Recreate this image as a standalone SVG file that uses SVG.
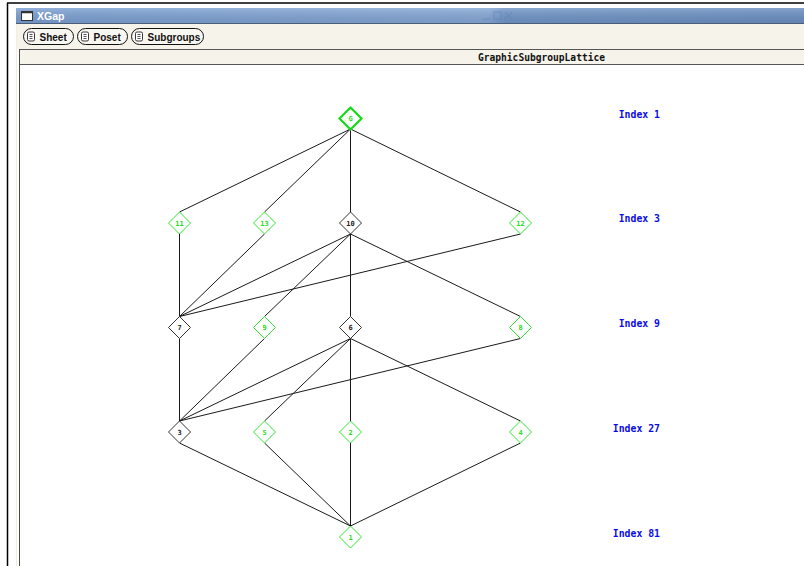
<svg xmlns="http://www.w3.org/2000/svg" width="804" height="566" viewBox="0 0 804 566">
  <defs>
    <linearGradient id="titleGrad" x1="0" y1="0" x2="1" y2="0">
      <stop offset="0" stop-color="#7a9fd2"/>
      <stop offset="0.6" stop-color="#86a8d6"/>
      <stop offset="0.62" stop-color="#7196c8"/>
      <stop offset="1" stop-color="#6b8fc2"/>
    </linearGradient>
    <linearGradient id="titleShade" x1="0" y1="0" x2="0" y2="1">
      <stop offset="0" stop-color="#ffffff" stop-opacity="0.18"/>
      <stop offset="1" stop-color="#000000" stop-opacity="0.08"/>
    </linearGradient>
  </defs>
  <style>
    .edge { stroke: #1a1a1a; stroke-width: 1; fill: none; }
    .node-g { fill: #ffffff; stroke: #2ee82e; stroke-width: 1; }
    .node-b { fill: #ffffff; stroke: #333333; stroke-width: 1; }
    .node-top { fill: #ffffff; stroke: #14dc14; stroke-width: 2.2; }
    .lab { font-family: "DejaVu Sans Mono", "Liberation Mono", monospace; font-size: 7px; font-weight: bold; text-anchor: middle; }
    .lab-g { fill: #22dd22; }
    .lab-b { fill: #222222; }
    .idx { font-family: "DejaVu Sans Mono", "Liberation Mono", monospace; font-size: 9.8px; font-weight: bold; fill: #0a0ae6; text-anchor: end; }
    .btn { fill: #f8f6f0; stroke: #111111; stroke-width: 1; }
    .btntxt { font-family: "Liberation Sans", Arial, sans-serif; font-size: 10px; font-weight: bold; fill: #111111; }
    .doc { fill: #ffffff; stroke: #222222; stroke-width: 0.9; }
  </style>

  <!-- page background and outer frame -->
  <rect x="0" y="0" width="804" height="566" fill="#ffffff"/>
  <line x1="7.5" y1="3" x2="7.5" y2="566" stroke="#000000" stroke-width="1.5"/>
  <line x1="7" y1="3" x2="804" y2="3" stroke="#000000" stroke-width="1.5"/>

  <!-- window title bar -->
  <g id="titlebar">
    <rect x="16" y="8" width="788" height="15.5" fill="url(#titleGrad)"/>
    <rect x="16" y="8" width="788" height="15.5" fill="url(#titleShade)"/>
    <line x1="16" y1="23.5" x2="804" y2="23.5" stroke="#4a5e7a" stroke-width="1"/>
    <rect x="21.5" y="11.5" width="11" height="9" fill="#ffffff" stroke="#333333" stroke-width="1"/>
    <line x1="21.5" y1="12.5" x2="32.5" y2="12.5" stroke="#333333" stroke-width="1.5"/>
    <text x="37" y="19.5" font-family="Liberation Sans, Arial, sans-serif" font-size="10.5" font-weight="bold" fill="#ffffff">XGap</text>
    <!-- faded window controls -->
    <g opacity="0.35" stroke="#5a7fb4" stroke-width="1.5" fill="none">
      <line x1="483" y1="19" x2="490" y2="19"/>
      <rect x="494" y="12" width="7" height="7"/>
      <line x1="505" y1="12" x2="512" y2="19"/>
      <line x1="512" y1="12" x2="505" y2="19"/>
    </g>
  </g>

  <!-- toolbar -->
  <g id="toolbar">
    <rect x="16" y="24" width="788" height="25" fill="#f6f3eb"/>
    <line x1="16.5" y1="24" x2="16.5" y2="566" stroke="#f1ede3" stroke-width="1"/>
    <g id="btn-sheet">
      <rect class="btn" x="23.5" y="28.5" width="50" height="16" rx="8" ry="8"/>
      <rect class="doc" x="27.5" y="32" width="7" height="9" rx="1.5"/>
      <line x1="29.5" y1="34.5" x2="32.5" y2="34.5" stroke="#222" stroke-width="0.8"/>
      <line x1="29.5" y1="36.5" x2="32.5" y2="36.5" stroke="#222" stroke-width="0.8"/>
      <line x1="29.5" y1="38.5" x2="32.5" y2="38.5" stroke="#222" stroke-width="0.8"/>
      <text class="btntxt" x="39.5" y="40.5">Sheet</text>
    </g>
    <g id="btn-poset">
      <rect class="btn" x="77.5" y="28.5" width="50" height="16" rx="8" ry="8"/>
      <rect class="doc" x="81.5" y="32" width="7" height="9" rx="1.5"/>
      <line x1="83.5" y1="34.5" x2="86.5" y2="34.5" stroke="#222" stroke-width="0.8"/>
      <line x1="83.5" y1="36.5" x2="86.5" y2="36.5" stroke="#222" stroke-width="0.8"/>
      <line x1="83.5" y1="38.5" x2="86.5" y2="38.5" stroke="#222" stroke-width="0.8"/>
      <text class="btntxt" x="93.5" y="40.5">Poset</text>
    </g>
    <g id="btn-subgroups">
      <rect class="btn" x="131.5" y="28.5" width="72" height="16" rx="8" ry="8"/>
      <rect class="doc" x="135.5" y="32" width="7" height="9" rx="1.5"/>
      <line x1="137.5" y1="34.5" x2="140.5" y2="34.5" stroke="#222" stroke-width="0.8"/>
      <line x1="137.5" y1="36.5" x2="140.5" y2="36.5" stroke="#222" stroke-width="0.8"/>
      <line x1="137.5" y1="38.5" x2="140.5" y2="38.5" stroke="#222" stroke-width="0.8"/>
      <text class="btntxt" x="147.5" y="40.5">Subgroups</text>
    </g>
  </g>

  <!-- sheet header band -->
  <g id="header">
    <rect x="19" y="49" width="785" height="16" fill="#f6f3eb"/>
    <line x1="19" y1="49.5" x2="804" y2="49.5" stroke="#555555" stroke-width="1"/>
    <line x1="19" y1="64.5" x2="804" y2="64.5" stroke="#555555" stroke-width="1"/>
    <text x="541.5" y="60.5" font-family="DejaVu Sans Mono, Liberation Mono, monospace" font-size="9.6" font-weight="bold" fill="#111111" text-anchor="middle">GraphicSubgroupLattice</text>
  </g>

  <!-- drawing area -->
  <rect x="20" y="65" width="784" height="501" fill="#ffffff"/>
  <line x1="19.5" y1="49" x2="19.5" y2="566" stroke="#4a4a4a" stroke-width="1"/>

  <!-- inclusion edges -->
  <g id="edges">
    <line class="edge" x1="350.5" y1="129" x2="179.5" y2="212"/>
    <line class="edge" x1="350.5" y1="129" x2="264.5" y2="212"/>
    <line class="edge" x1="350.5" y1="129" x2="350.5" y2="212"/>
    <line class="edge" x1="350.5" y1="129" x2="520.5" y2="212"/>

    <line class="edge" x1="179.5" y1="234" x2="179.5" y2="316.5"/>
    <line class="edge" x1="264.5" y1="234" x2="179.5" y2="316.5"/>
    <line class="edge" x1="350.5" y1="234" x2="179.5" y2="316.5"/>
    <line class="edge" x1="520.5" y1="234" x2="179.5" y2="316.5"/>
    <line class="edge" x1="350.5" y1="234" x2="264.5" y2="316.5"/>
    <line class="edge" x1="350.5" y1="234" x2="350.5" y2="316.5"/>
    <line class="edge" x1="350.5" y1="234" x2="520.5" y2="316.5"/>

    <line class="edge" x1="179.5" y1="338.5" x2="179.5" y2="421"/>
    <line class="edge" x1="264.5" y1="338.5" x2="179.5" y2="421"/>
    <line class="edge" x1="350.5" y1="338.5" x2="179.5" y2="421"/>
    <line class="edge" x1="520.5" y1="338.5" x2="179.5" y2="421"/>
    <line class="edge" x1="350.5" y1="338.5" x2="264.5" y2="421"/>
    <line class="edge" x1="350.5" y1="338.5" x2="350.5" y2="421"/>
    <line class="edge" x1="350.5" y1="338.5" x2="520.5" y2="421"/>

    <line class="edge" x1="179.5" y1="443" x2="350.5" y2="526"/>
    <line class="edge" x1="264.5" y1="443" x2="350.5" y2="526"/>
    <line class="edge" x1="350.5" y1="443" x2="350.5" y2="526"/>
    <line class="edge" x1="520.5" y1="443" x2="350.5" y2="526"/>
  </g>

  <!-- subgroup nodes -->
  <g id="node-G">
    <polygon class="node-top" points="350.5,107.5 361.5,118.5 350.5,129.5 339.5,118.5"/>
    <text class="lab lab-g" x="350.5" y="121">G</text>
  </g>

  <g id="node-11">
    <polygon class="node-g" points="179.5,212 190.5,223 179.5,234 168.5,223"/>
    <text class="lab lab-g" x="179.5" y="225.5">11</text>
  </g>
  <g id="node-13">
    <polygon class="node-g" points="264.5,212 275.5,223 264.5,234 253.5,223"/>
    <text class="lab lab-g" x="264.5" y="225.5">13</text>
  </g>
  <g id="node-10">
    <polygon class="node-b" points="350.5,212 361.5,223 350.5,234 339.5,223"/>
    <text class="lab lab-b" x="350.5" y="225.5">10</text>
  </g>
  <g id="node-12">
    <polygon class="node-g" points="520.5,212 531.5,223 520.5,234 509.5,223"/>
    <text class="lab lab-g" x="520.5" y="225.5">12</text>
  </g>

  <g id="node-7">
    <polygon class="node-b" points="179.5,316.5 190.5,327.5 179.5,338.5 168.5,327.5"/>
    <text class="lab lab-b" x="179.5" y="330">7</text>
  </g>
  <g id="node-9">
    <polygon class="node-g" points="264.5,316.5 275.5,327.5 264.5,338.5 253.5,327.5"/>
    <text class="lab lab-g" x="264.5" y="330">9</text>
  </g>
  <g id="node-6">
    <polygon class="node-b" points="350.5,316.5 361.5,327.5 350.5,338.5 339.5,327.5"/>
    <text class="lab lab-b" x="350.5" y="330">6</text>
  </g>
  <g id="node-8">
    <polygon class="node-g" points="520.5,316.5 531.5,327.5 520.5,338.5 509.5,327.5"/>
    <text class="lab lab-g" x="520.5" y="330">8</text>
  </g>

  <g id="node-3">
    <polygon class="node-b" points="179.5,421 190.5,432 179.5,443 168.5,432"/>
    <text class="lab lab-b" x="179.5" y="434.5">3</text>
  </g>
  <g id="node-5">
    <polygon class="node-g" points="264.5,421 275.5,432 264.5,443 253.5,432"/>
    <text class="lab lab-g" x="264.5" y="434.5">5</text>
  </g>
  <g id="node-2">
    <polygon class="node-g" points="350.5,421 361.5,432 350.5,443 339.5,432"/>
    <text class="lab lab-g" x="350.5" y="434.5">2</text>
  </g>
  <g id="node-4">
    <polygon class="node-g" points="520.5,421 531.5,432 520.5,443 509.5,432"/>
    <text class="lab lab-g" x="520.5" y="434.5">4</text>
  </g>

  <g id="node-1">
    <polygon class="node-g" points="350.5,526 361.5,537 350.5,548 339.5,537"/>
    <text class="lab lab-g" x="350.5" y="539.5">1</text>
  </g>

  <!-- index level labels -->
  <g id="levels">
    <text class="idx" x="660" y="117.5">Index 1</text>
    <text class="idx" x="660" y="222.3">Index 3</text>
    <text class="idx" x="660" y="327">Index 9</text>
    <text class="idx" x="660" y="432">Index 27</text>
    <text class="idx" x="660" y="536.5">Index 81</text>
  </g>
</svg>
